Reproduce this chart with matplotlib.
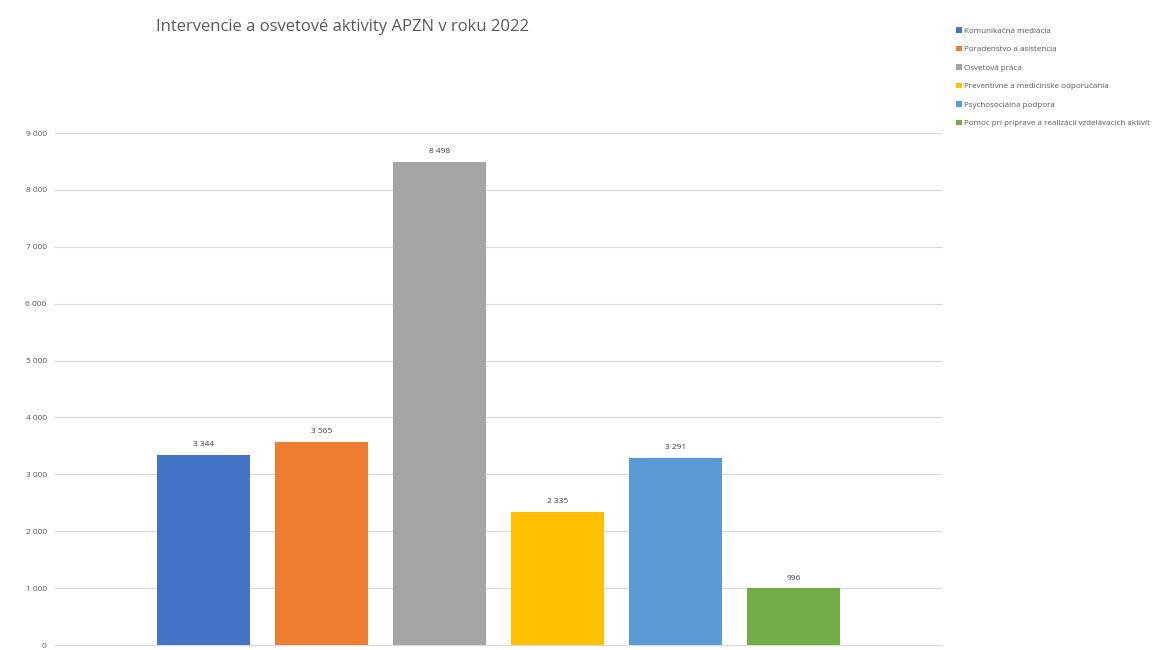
import matplotlib.pyplot as plt
from matplotlib.patches import Patch

categories = [
    "Komunikačná mediácia",
    "Poradenstvo a asistencia",
    "Osvetová práca",
    "Preventívne a medicínske odporúčania",
    "Psychosociálna podpora",
    "Pomoc pri príprave a realizácii vzdelávacích aktivít",
]
values = [3344, 3565, 8498, 2335, 3291, 996]
colors = ["#4472C4", "#ED7D31", "#A5A5A5", "#FFC000", "#5B9BD5", "#70AD47"]
yticks = list(range(0, 9001, 1000))

plt.rcParams["font.family"] = ["Open Sans", "DejaVu Sans"]


def fmt(v):
    return f"{v:,}".replace(",", " ")


fig = plt.figure(figsize=(11.56, 6.5), dpi=100)
ax = fig.add_axes([55 / 1156, 1 - 645 / 650, (942 - 55) / 1156, (645 - 133) / 650])

x = list(range(len(values)))
ax.bar(x, values, width=93 / 118, color=colors, zorder=3)
for xi, v in zip(x, values):
    ax.text(xi, v + 120, fmt(v), ha="center", va="bottom", fontsize=6, color="#404040")

ax.set_xlim(-1.258, 6.258)
ax.set_ylim(0, 9000)
ax.set_yticks(yticks)
ax.set_yticklabels([fmt(t) for t in yticks], fontsize=6, color="#595959")
ax.set_xticks([])
ax.tick_params(axis="y", length=0, pad=6)
ax.grid(axis="y", color="#d9d9d9", linewidth=0.8, zorder=0)
for s in ["top", "right", "left"]:
    ax.spines[s].set_visible(False)
ax.spines["bottom"].set_color("#d9d9d9")

fig.text(342 / 1156, 1 - 27 / 650, "Intervencie a osvetové aktivity APZN v roku 2022",
         ha="center", va="center", fontsize=12, color="#595959")

handles = [Patch(facecolor=c, edgecolor="none") for c in colors]
fig.legend(handles, categories, loc="upper left", bbox_to_anchor=(956 / 1156, 1 - 27 / 650),
           frameon=False, fontsize=5.8, labelcolor="#595959", handlelength=0.7, handleheight=0.7,
           handletextpad=0.3, labelspacing=1.35, borderaxespad=0, borderpad=0)

fig.savefig("out.png", dpi=100)
